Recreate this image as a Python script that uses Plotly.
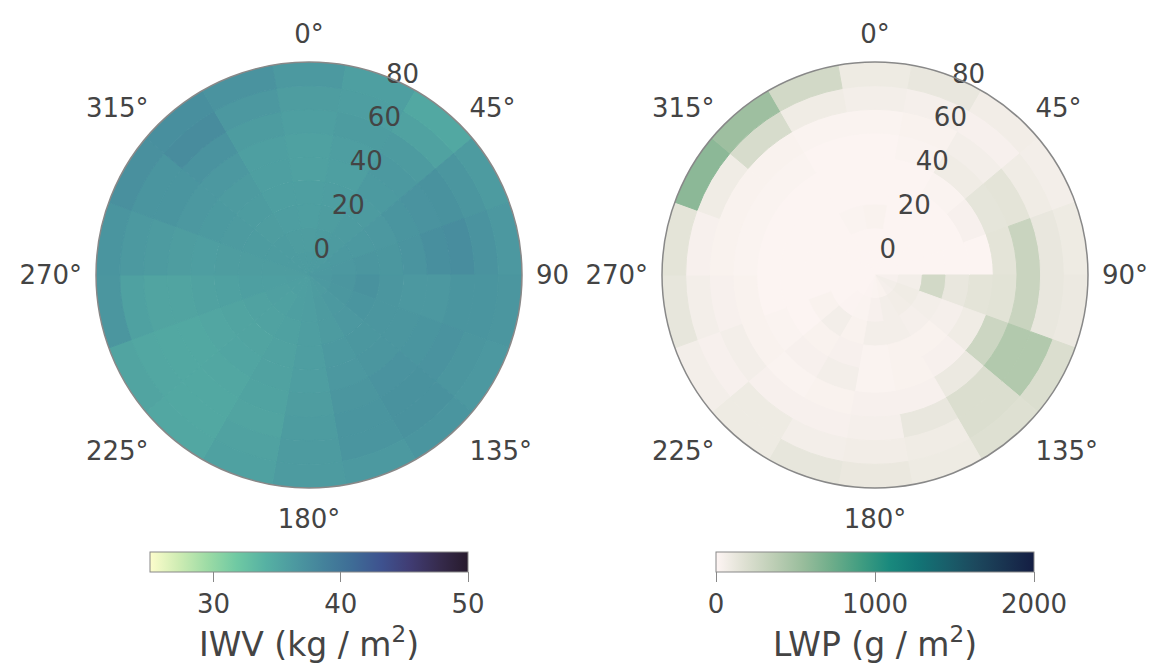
import plotly.graph_objects as go

# ---- data ----
theta_centers = [0, 20, 40, 60, 80, 100, 120, 140, 160, 180, 200, 220, 240, 260, 280, 300, 320, 340]
ring_edges = [0, 10, 20, 30, 40, 50, 60, 70, 80, 90]

# IWV (kg/m2), rows = rings (inner -> outer), cols = theta_centers
iwv = [
    [36.1, 36.2, 36.2, 36.3, 36.4, 36.5, 36.4, 36.2, 36.1, 35.9, 35.8, 35.8, 35.8, 35.9, 36.0, 36.1, 36.1, 36.1],
    [36.0, 36.1, 36.2, 36.4, 36.5, 36.7, 36.6, 36.4, 36.2, 35.9, 35.8, 35.6, 35.7, 35.8, 36.0, 36.1, 36.1, 36.0],
    [35.8, 36.0, 36.2, 36.4, 36.7, 37.1, 36.8, 36.5, 36.2, 35.9, 35.6, 35.5, 35.5, 35.8, 36.0, 36.1, 36.0, 35.9],
    [35.8, 35.9, 36.2, 36.5, 36.6, 36.7, 36.7, 36.6, 36.4, 35.9, 35.5, 35.3, 35.3, 35.6, 36.0, 36.2, 36.1, 35.8],
    [35.6, 35.8, 36.3, 36.8, 36.9, 36.5, 36.7, 36.7, 36.5, 35.9, 35.5, 35.2, 35.1, 35.5, 35.9, 36.3, 36.2, 35.8],
    [35.6, 35.9, 36.4, 37.0, 37.4, 36.5, 36.8, 37.0, 36.7, 36.0, 35.4, 35.0, 34.9, 35.3, 36.0, 36.5, 36.5, 35.8],
    [35.8, 36.1, 36.2, 37.1, 37.5, 36.8, 37.0, 37.1, 36.8, 36.1, 35.3, 34.9, 34.9, 35.3, 36.2, 36.8, 37.0, 36.1],
    [36.0, 35.9, 35.5, 36.7, 37.0, 36.8, 36.7, 37.1, 36.8, 36.2, 35.5, 34.9, 35.0, 35.6, 36.4, 36.8, 37.6, 36.5],
    [36.4, 35.8, 34.9, 36.2, 36.5, 36.7, 36.5, 36.8, 36.4, 36.2, 35.6, 35.0, 35.3, 36.7, 36.8, 37.3, 37.4, 37.0],
]

# LWP (g/m2)
lwp = [
    [10, 10, 10, 10, 10, 40, 60, 50, 30, 20, 15, 10, 10, 10, 10, 10, 10, 10],
    [10, 10, 10, 10, 10, 60, 80, 70, 60, 40, 20, 15, 10, 10, 10, 10, 10, 10],
    [30, 10, 10, 10, 10, 250, 60, 50, 60, 60, 30, 60, 30, 10, 10, 10, 10, 20],
    [10, 10, 10, 10, 10, 120, 50, 30, 30, 20, 40, 30, 10, 10, 10, 10, 10, 10],
    [10, 10, 20, 40, 10, 150, 80, 40, 30, 20, 60, 40, 20, 10, 10, 10, 10, 10],
    [10, 20, 80, 140, 150, 160, 280, 100, 40, 40, 30, 20, 30, 30, 20, 20, 20, 10],
    [20, 30, 60, 150, 300, 300, 420, 200, 120, 50, 40, 40, 60, 40, 30, 30, 30, 20],
    [60, 50, 40, 80, 120, 120, 420, 200, 80, 70, 60, 90, 40, 60, 40, 80, 220, 80],
    [90, 120, 70, 60, 90, 100, 200, 180, 90, 110, 130, 90, 60, 130, 150, 600, 520, 250],
]

angle_ticks = [0, 45, 90, 135, 180, 225, 270, 315]
angle_labels_left = ["0°", "45°", "90", "135°", "180°", "225°", "270°", "315°"]
angle_labels_right = ["0°", "45°", "90°", "135°", "180°", "225°", "270°", "315°"]
r_ticks = [0, 20, 40, 60, 80]
r_label_angle = 22.5
iwv_cbar_ticks = [30, 40, 50]
lwp_cbar_ticks = [0, 1000, 2000]

FONT = "DejaVu Sans"
TXT = "#444444"


def flatten(grid):
    th, base, r, col = [], [], [], []
    for i, row in enumerate(grid):
        for j, v in enumerate(row):
            th.append(theta_centers[j])
            base.append(ring_edges[i])
            r.append(ring_edges[i + 1] - ring_edges[i])
            col.append(v)
    return th, base, r, col


def bars(grid, scale, cmin, cmax, cb, subplot):
    th, base, r, col = flatten(grid)
    return go.Barpolar(
        theta=th, r=r, base=base, width=[20] * len(th),
        marker=dict(color=col, colorscale=scale, cmin=cmin, cmax=cmax,
                    line=dict(color=col, colorscale=scale, cmin=cmin, cmax=cmax, width=1),
                    colorbar=cb, showscale=True),
        subplot=subplot, hoverinfo="skip", showlegend=False,
    )


def rlabels(subplot):
    return go.Scatterpolar(
        r=[v + 5 for v in r_ticks], theta=[r_label_angle] * len(r_ticks),
        text=[str(v) for v in r_ticks], mode="text", textposition="top right",
        textfont=dict(size=26, color=TXT, family=FONT),
        cliponaxis=False, subplot=subplot, hoverinfo="skip", showlegend=False,
    )


def cbar(xc, title, ticks):
    return dict(
        orientation="h", x=xc, xanchor="center", y=1 - 552 / 670, yanchor="top",
        len=318, lenmode="pixels", thickness=20, thicknessmode="pixels",
        xpad=0, ypad=0,
        outlinecolor="#888888", outlinewidth=1,
        tickvals=ticks, ticks="outside", ticklen=10, tickcolor="#888888",
        tickfont=dict(size=26, color=TXT, family=FONT),
        title=dict(text=title, side="bottom", font=dict(size=33, color=TXT, family=FONT)),
    )


fig = go.Figure()
fig.add_trace(bars(iwv, "deep", 25, 50, cbar(309 / 1153, "IWV (kg / m<sup>2</sup>)", iwv_cbar_ticks), "polar"))
fig.add_trace(rlabels("polar"))
fig.add_trace(bars(lwp, "tempo", 0, 2000, cbar(875 / 1153, "LWP (g / m<sup>2</sup>)", lwp_cbar_ticks), "polar2"))
fig.add_trace(rlabels("polar2"))


def polar_layout(x0, x1, labels):
    return dict(
        domain=dict(x=[x0, x1], y=[1 - 488 / 670, 1 - 62 / 670]),
        bgcolor="white",
        angularaxis=dict(rotation=90, direction="clockwise", tickvals=angle_ticks, ticktext=labels,
                         showgrid=False, showline=True, linecolor="#888888", linewidth=1.5,
                         ticks="outside", ticklen=8, tickcolor="rgba(0,0,0,0)",
                         tickfont=dict(size=26, color=TXT, family=FONT)),
        radialaxis=dict(range=[0, 90], showticklabels=False, showgrid=False, showline=False,
                        ticks="", angle=67.5),
    )


fig.update_layout(
    width=1153, height=670, autosize=False,
    margin=dict(l=0, r=0, t=0, b=0),
    paper_bgcolor="white", plot_bgcolor="white",
    polar=polar_layout(96 / 1153, 522 / 1153, angle_labels_left),
    polar2=polar_layout(662 / 1153, 1088 / 1153, angle_labels_right),
    font=dict(family=FONT, color=TXT),
)

fig.write_html("out.html")
